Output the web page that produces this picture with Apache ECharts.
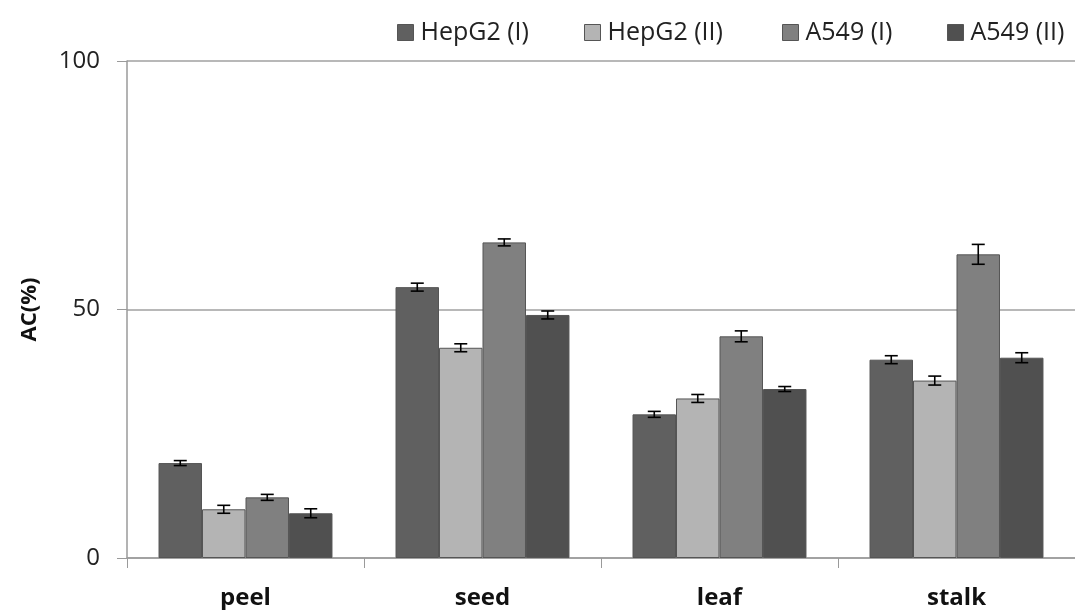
<!DOCTYPE html>
<html>
<head>
<meta charset="utf-8">
<script src="https://cdn.jsdelivr.net/npm/echarts@6/dist/echarts.min.js"></script>
<style>
  html, body { margin: 0; padding: 0; background: #fff; }
  #main { width: 1075px; height: 610px; }
</style>
</head>
<body>
<div id="main"></div>
<script>
// categories and series
var categories = ['peel', 'seed', 'leaf', 'stalk'];
var seriesNames = ['HepG2 (I)', 'HepG2 (II)', 'A549 (I)', 'A549 (II)'];
var seriesColors = ['#606060', '#b4b4b4', '#808080', '#505050'];

var hepg2I = [19.1, 54.5, 28.9, 39.9];
var hepg2II = [9.8, 42.3, 32.1, 35.7];
var a549I = [12.2, 63.5, 44.6, 61.1];
var a549II = [9.0, 48.9, 34.0, 40.3];

// error (+/-)
var hepg2IErr = [0.5, 0.8, 0.6, 0.8];
var hepg2IIErr = [0.8, 0.8, 0.8, 0.9];
var a549IErr = [0.6, 0.7, 1.1, 2.0];
var a549IIErr = [0.9, 0.8, 0.5, 1.0];

var yTicks = [0, 50, 100];

var values = [hepg2I, hepg2II, a549I, a549II];
var errors = [hepg2IErr, hepg2IIErr, a549IErr, a549IIErr];

var gapFrac = 0.266; // category gap
var legendLeft = [392, 579, 777, 942];

var series = [];
values.forEach(function (vals, s) {
  series.push({
    name: seriesNames[s],
    type: 'bar',
    data: vals,
    barGap: '0%',
    barCategoryGap: '26.6%',
    itemStyle: { color: seriesColors[s], borderColor: '#555', borderWidth: 1 },
    z: 2
  });
});

// error bars drawn over the bars
values.forEach(function (vals, s) {
  var errData = vals.map(function (v, i) { return [i, v, errors[s][i]]; });
  series.push({
    type: 'custom',
    data: errData,
    z: 5,
    silent: true,
    encode: { x: 0, y: 1 },
    renderItem: function (params, api) {
      var idx = api.value(0);
      var v = api.value(1);
      var e = api.value(2);
      var catW = api.size([1, 0])[0];
      var barW = catW * (1 - gapFrac) / 4;
      var center = api.coord([idx, v]);
      var x = center[0] + (s - 1.5) * barW;
      var top = api.coord([idx, v + e])[1];
      var bot = api.coord([idx, v - e])[1];
      var cap = 6.5;
      var style = { stroke: '#000', lineWidth: 1.6 };
      return {
        type: 'group',
        children: [
          { type: 'line', shape: { x1: x, y1: top, x2: x, y2: bot }, style: style },
          { type: 'line', shape: { x1: x - cap, y1: top, x2: x + cap, y2: top }, style: style },
          { type: 'line', shape: { x1: x - cap, y1: bot, x2: x + cap, y2: bot }, style: style }
        ]
      };
    }
  });
});

// one legend per item so each sits where the reference puts it
var legends = seriesNames.map(function (n, i) {
  return {
    data: [n],
    left: legendLeft[i],
    top: 15,
    itemWidth: 16,
    itemHeight: 16,
    icon: 'rect',
    itemStyle: { borderColor: '#555', borderWidth: 1 },
    textStyle: { fontSize: 25, color: '#222', padding: [0, 0, 0, 2] }
  };
});

var chart = echarts.init(document.getElementById('main'));
chart.setOption({
  animation: false,
  textStyle: { fontFamily: 'Open Sans, DejaVu Sans, sans-serif' },
  legend: legends,
  grid: { left: 127, right: 0, top: 61, bottom: 52 },
  xAxis: {
    type: 'category',
    data: categories,
    axisLine: { lineStyle: { color: '#9a9a9a', width: 1.5 } },
    axisTick: { show: true, length: 10, lineStyle: { color: '#9a9a9a' } },
    axisLabel: { fontSize: 24, fontWeight: 'bold', color: '#111', margin: 28 }
  },
  yAxis: {
    type: 'value',
    min: yTicks[0],
    max: yTicks[yTicks.length - 1],
    interval: yTicks[1] - yTicks[0],
    name: 'AC(%)',
    nameLocation: 'middle',
    nameGap: 86,
    nameTextStyle: { fontSize: 22, fontWeight: 'bold', color: '#111' },
    axisLine: { show: true, lineStyle: { color: '#9a9a9a', width: 1.5 } },
    axisTick: { show: true, length: 10, lineStyle: { color: '#9a9a9a' } },
    axisLabel: { fontSize: 24, color: '#222', margin: 27 },
    splitLine: { lineStyle: { color: '#a0a0a0', width: 1.5 } }
  },
  series: series
});
</script>
</body>
</html>
